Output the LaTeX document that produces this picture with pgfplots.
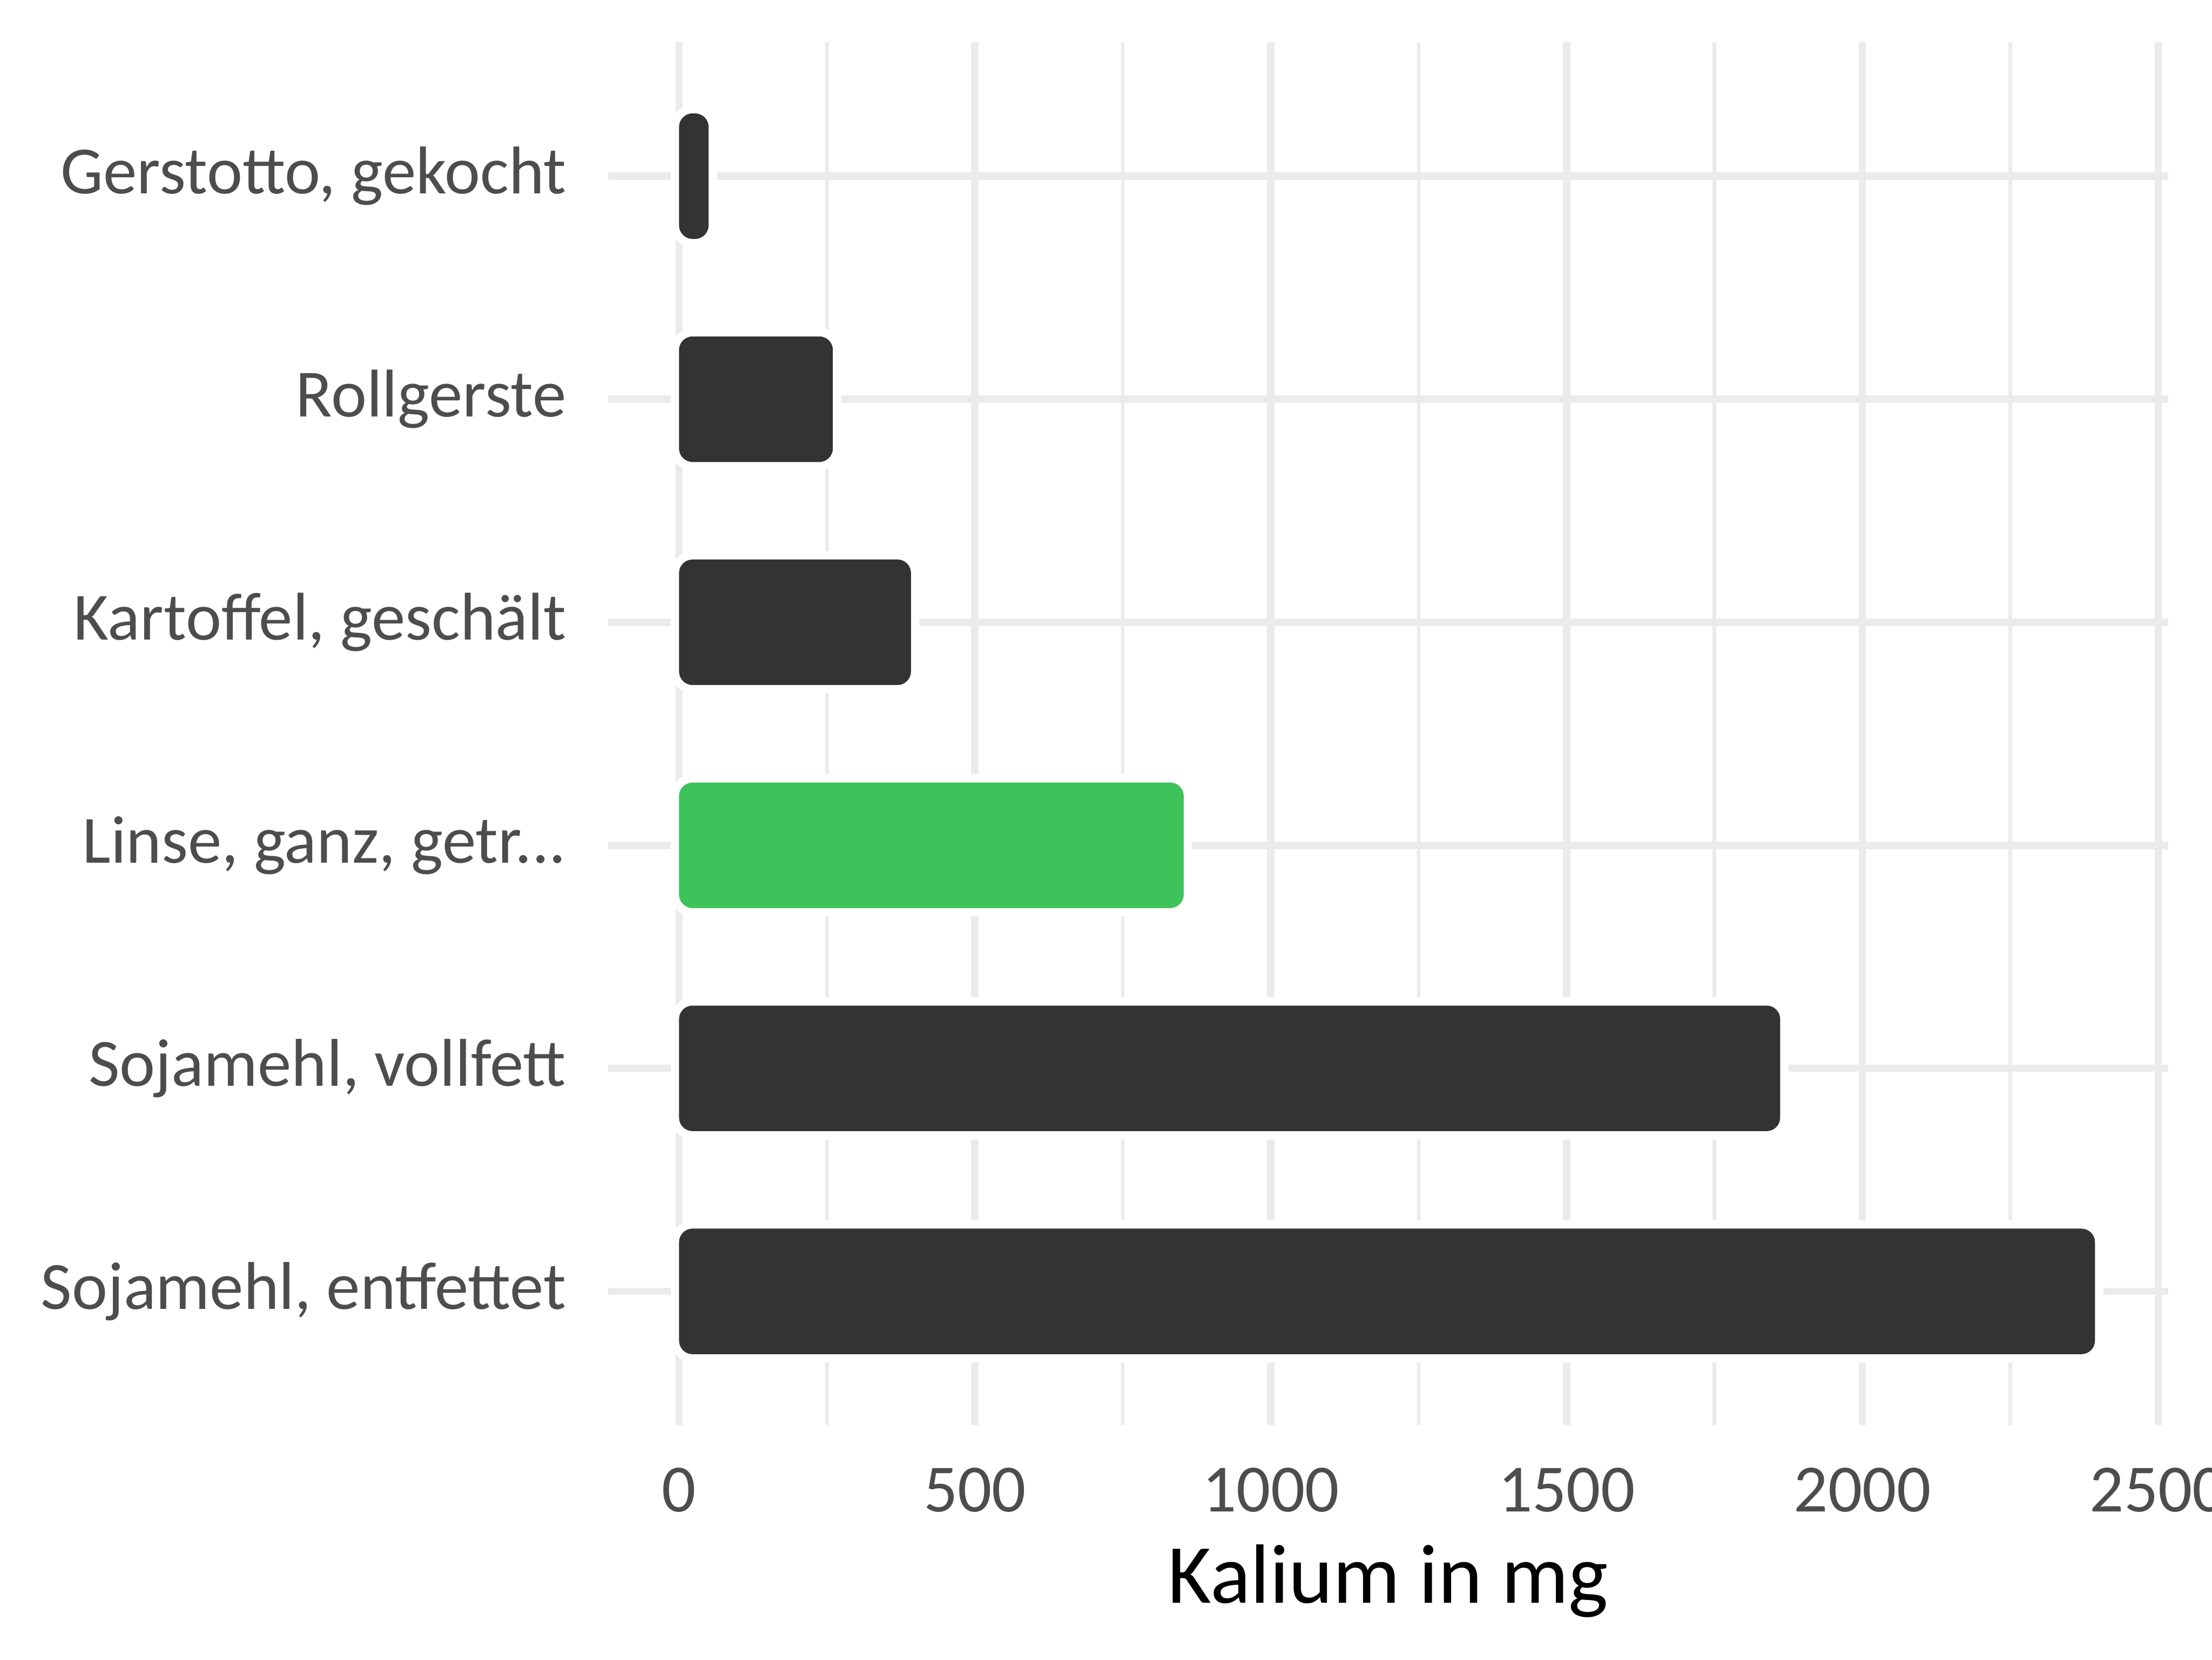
\documentclass[border=0pt]{standalone}
\usepackage{pgfplots}
\pgfplotsset{compat=1.18}
\usepackage{fontspec}
\setmainfont{Carlito}
\definecolor{barc}{HTML}{333333}
\definecolor{hili}{HTML}{3EC35A}
\definecolor{gridc}{HTML}{EBEBEB}
\definecolor{tickc}{HTML}{4D4D4D}
\newcommand{\tdots}{...}
\begin{document}
\begin{tikzpicture}
\useasboundingbox (-4.398,-1.694) rectangle (11.602,10.306);
\begin{axis}[
    at={(0,0)}, anchor=south west,
    scale only axis,
    width=11.286cm, height=10cm,
    xmin=-120, xmax=2517,
    ymin=0.4, ymax=6.6,
    xbar, bar shift=0pt, bar width=0.563,
    axis line style={draw=none},
    tick style={draw=none},
    major tick length=0pt,
    xtick={0,500,1000,1500,2000,2500},
    xticklabels={0,500,1000,1500,2000,2500},
    minor xtick={250,750,1250,1750,2250},
    ytick={1,2,3,4,5,6},
    yticklabels={{Sojamehl, entfettet},{Sojamehl, vollfett},{Linse, ganz, getr\tdots},{Kartoffel, geschält},{Rollgerste},{Gerstotto, gekocht}},
    xmajorgrids, xminorgrids, ymajorgrids,
    major grid style={gridc, line width=1.5pt},
    minor grid style={gridc, line width=0.75pt},
    ticklabel style={font=\fontsize{13.9}{16}\selectfont, text=tickc, inner sep=0pt},
    xticklabel style={anchor=north, yshift=-0.3cm},
    yticklabel style={anchor=east, xshift=-0.296cm},
    xlabel={Kalium in mg},
    xlabel style={at={(axis description cs:0.5,0)}, anchor=north, inner sep=0pt,
        yshift=-0.857cm, font=\fontsize{17.3}{20}\selectfont, text=black},
    every axis plot/.append style={draw=none, rounded corners=2.8pt,
        preaction={draw=white, line width=3.4pt}},
]
\addplot[fill=barc] coordinates {(2393,1) (1861,2) (392,4) (260,5) (50,6)};
\addplot[fill=hili] coordinates {(853,3)};
\end{axis}
\end{tikzpicture}
\end{document}
